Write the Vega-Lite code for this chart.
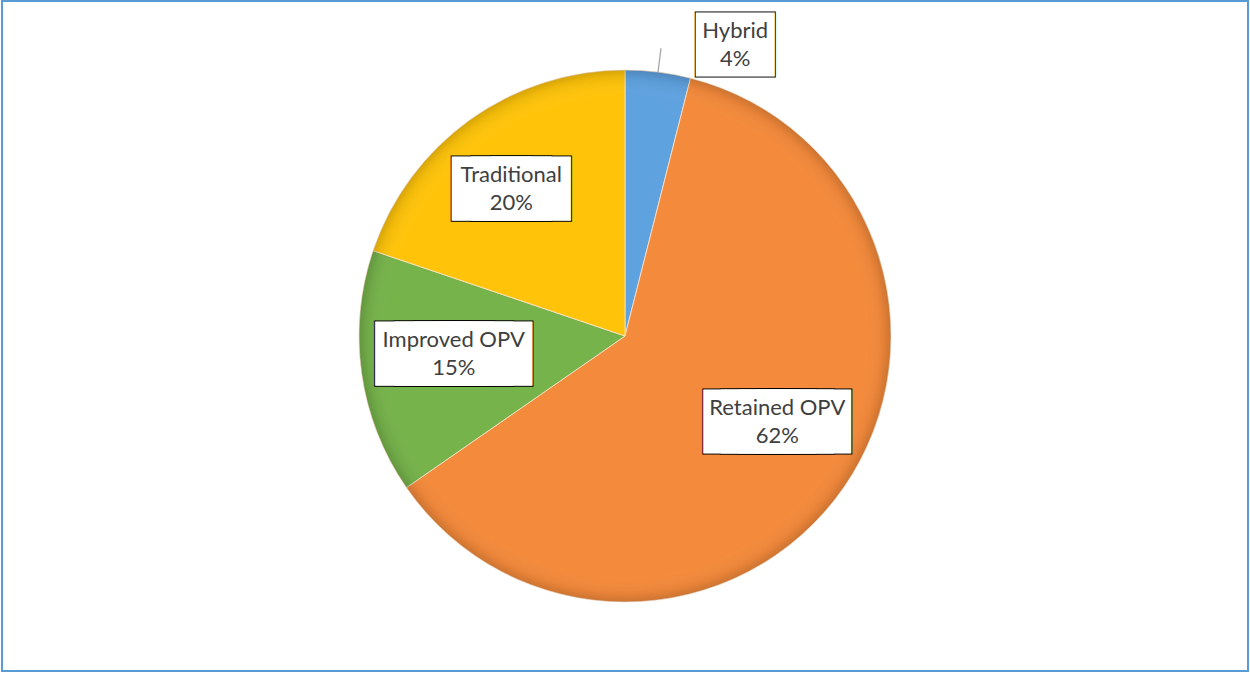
{
  "$schema": "https://vega.github.io/schema/vega-lite/v6.json",
  "width": 1246,
  "height": 670,
  "autosize": {"type": "none"},
  "padding": {"left": 2, "top": 1, "right": 2, "bottom": 2},
  "background": "white",
  "data": {
    "values": [
      {"name": "Hybrid", "value": 0.04, "rank": 1},
      {"name": "Retained OPV", "value": 0.62, "rank": 2},
      {"name": "Improved OPV", "value": 0.15, "rank": 3},
      {"name": "Traditional", "value": 0.20, "rank": 4}
    ]
  },
  "layer": [
    {
      "mark": {"type": "arc", "outerRadius": 266, "stroke": "#FBE3CC", "strokeWidth": 1, "strokeOpacity": 0.8},
      "encoding": {
        "theta": {"field": "value", "type": "quantitative", "stack": true},
        "order": {"field": "rank", "type": "quantitative"},
        "color": {
          "field": "name", "type": "nominal", "legend": null,
          "scale": {
            "domain": ["Hybrid", "Retained OPV", "Improved OPV", "Traditional"],
            "range": ["#5FA2E0", "#F48A3B", "#76B34B", "#FFC40A"]
          }
        }
      }
    },
    {
      "transform": [{"aggregate": [{"op": "sum", "field": "value", "as": "total"}]}],
      "mark": {
        "type": "arc", "outerRadius": 266,
        "color": {
          "gradient": "radial", "x1": 0.5, "y1": 0.5, "r1": 0, "x2": 0.5, "y2": 0.5, "r2": 0.5,
          "stops": [
            {"offset": 0, "color": "rgba(255,255,255,0)"},
            {"offset": 0.9, "color": "rgba(255,255,255,0)"},
            {"offset": 0.97, "color": "rgba(0,0,0,0.06)"},
            {"offset": 1, "color": "rgba(0,0,0,0.16)"}
          ]
        }
      },
      "encoding": {"theta": {"field": "total", "type": "quantitative", "stack": true}}
    },
    {
      "encoding": {
        "theta": {"field": "value", "type": "quantitative", "stack": true},
        "order": {"field": "rank", "type": "quantitative"}
      },
      "layer": [
        {
          "transform": [{"filter": "datum.name === 'Hybrid'"}],
          "mark": {"type": "arc", "outerRadius": 290, "innerRadius": 266, "padAngle": 1, "filled": false, "color": "#A6A6A6", "strokeWidth": 1.3}
        },
        {
          "mark": {"type": "text", "radius": 178, "dx": 6, "dy": -16, "font": "DejaVu Sans", "fontSize": 17.4, "align": "center", "baseline": "middle", "color": "#000000", "stroke": "#000000", "strokeWidth": 64.8, "strokeJoin": "miter"},
          "encoding": {"text": {"condition": {"test": "datum.name === 'Retained OPV'", "value": "—————"}, "value": ""}}
        },
        {
          "mark": {"type": "text", "radius": 178, "dx": 6, "dy": -16, "font": "DejaVu Sans", "fontSize": 17.4, "align": "center", "baseline": "middle", "color": "#ffffff", "stroke": "#ffffff", "strokeWidth": 62.8, "strokeJoin": "miter"},
          "encoding": {"text": {"condition": {"test": "datum.name === 'Retained OPV'", "value": "—————"}, "value": ""}}
        },
        {
          "mark": {"type": "text", "radius": 178, "dx": 5, "dy": -8, "font": "DejaVu Sans", "fontSize": 19.3, "align": "center", "baseline": "middle", "color": "#000000", "stroke": "#000000", "strokeWidth": 64.7, "strokeJoin": "miter"},
          "encoding": {"text": {"condition": {"test": "datum.name === 'Improved OPV'", "value": "—————"}, "value": ""}}
        },
        {
          "mark": {"type": "text", "radius": 178, "dx": 5, "dy": -8, "font": "DejaVu Sans", "fontSize": 19.3, "align": "center", "baseline": "middle", "color": "#ffffff", "stroke": "#ffffff", "strokeWidth": 62.7, "strokeJoin": "miter"},
          "encoding": {"text": {"condition": {"test": "datum.name === 'Improved OPV'", "value": "—————"}, "value": ""}}
        },
        {
          "mark": {"type": "text", "radius": 178, "dx": -10, "dy": -3, "font": "DejaVu Sans", "fontSize": 19.5, "align": "center", "baseline": "middle", "color": "#000000", "stroke": "#000000", "strokeWidth": 64.7, "strokeJoin": "miter"},
          "encoding": {"text": {"condition": {"test": "datum.name === 'Traditional'", "value": "———"}, "value": ""}}
        },
        {
          "mark": {"type": "text", "radius": 178, "dx": -10, "dy": -3, "font": "DejaVu Sans", "fontSize": 19.5, "align": "center", "baseline": "middle", "color": "#ffffff", "stroke": "#ffffff", "strokeWidth": 62.7, "strokeJoin": "miter"},
          "encoding": {"text": {"condition": {"test": "datum.name === 'Traditional'", "value": "———"}, "value": ""}}
        },
        {
          "transform": [{"filter": "datum.name === 'Hybrid'"}],
          "mark": {"type": "text", "radius": 292, "dx": 74, "dy": -2, "font": "DejaVu Sans", "fontSize": 18, "align": "center", "baseline": "middle", "color": "#000000", "stroke": "#000000", "strokeWidth": 64.8, "strokeJoin": "miter", "text": "—"}
        },
        {
          "transform": [{"filter": "datum.name === 'Hybrid'"}],
          "mark": {"type": "text", "radius": 292, "dx": 74, "dy": -2, "font": "DejaVu Sans", "fontSize": 18, "align": "center", "baseline": "middle", "color": "#ffffff", "stroke": "#ffffff", "strokeWidth": 62.8, "strokeJoin": "miter", "text": "—"}
        },
        {
          "mark": {"type": "text", "radius": 178, "dx": 6, "dy": -29, "font": "Lato", "fontSize": 22, "align": "center", "baseline": "middle", "color": "#404040"},
          "encoding": {"text": {"condition": {"test": "datum.name !== 'Retained OPV'", "value": ""}, "field": "name", "type": "nominal"}}
        },
        {
          "mark": {"type": "text", "radius": 178, "dx": 6, "dy": -1, "font": "Lato", "fontSize": 22, "align": "center", "baseline": "middle", "color": "#404040"},
          "encoding": {"text": {"condition": {"test": "datum.name !== 'Retained OPV'", "value": ""}, "field": "value", "type": "quantitative", "format": ".0%"}}
        },
        {
          "mark": {"type": "text", "radius": 178, "dx": 5, "dy": -21, "font": "Lato", "fontSize": 22, "align": "center", "baseline": "middle", "color": "#404040"},
          "encoding": {"text": {"condition": {"test": "datum.name !== 'Improved OPV'", "value": ""}, "field": "name", "type": "nominal"}}
        },
        {
          "mark": {"type": "text", "radius": 178, "dx": 5, "dy": 7, "font": "Lato", "fontSize": 22, "align": "center", "baseline": "middle", "color": "#404040"},
          "encoding": {"text": {"condition": {"test": "datum.name !== 'Improved OPV'", "value": ""}, "field": "value", "type": "quantitative", "format": ".0%"}}
        },
        {
          "mark": {"type": "text", "radius": 178, "dx": -10, "dy": -16, "font": "Lato", "fontSize": 22, "align": "center", "baseline": "middle", "color": "#404040"},
          "encoding": {"text": {"condition": {"test": "datum.name !== 'Traditional'", "value": ""}, "field": "name", "type": "nominal"}}
        },
        {
          "mark": {"type": "text", "radius": 178, "dx": -10, "dy": 12, "font": "Lato", "fontSize": 22, "align": "center", "baseline": "middle", "color": "#404040"},
          "encoding": {"text": {"condition": {"test": "datum.name !== 'Traditional'", "value": ""}, "field": "value", "type": "quantitative", "format": ".0%"}}
        },
        {
          "transform": [{"filter": "datum.name === 'Hybrid'"}],
          "mark": {"type": "text", "radius": 292, "dx": 74, "dy": -15, "font": "Lato", "fontSize": 22, "align": "center", "baseline": "middle", "color": "#404040"},
          "encoding": {"text": {"field": "name", "type": "nominal"}}
        },
        {
          "transform": [{"filter": "datum.name === 'Hybrid'"}],
          "mark": {"type": "text", "radius": 292, "dx": 74, "dy": 13, "font": "Lato", "fontSize": 22, "align": "center", "baseline": "middle", "color": "#404040"},
          "encoding": {"text": {"field": "value", "type": "quantitative", "format": ".0%"}}
        }
      ]
    },
    {
      "mark": {"type": "rect", "filled": false, "stroke": "#5B9BD5", "strokeWidth": 2},
      "encoding": {
        "x": {"value": 0},
        "x2": {"value": "width"},
        "y": {"value": 0},
        "y2": {"value": "height"}
      }
    }
  ]
}
